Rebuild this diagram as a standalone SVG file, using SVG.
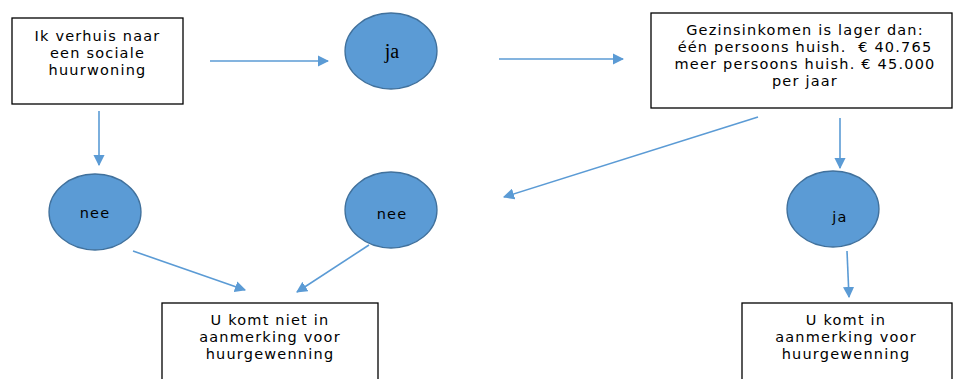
<svg xmlns="http://www.w3.org/2000/svg" width="953" height="379" viewBox="0 0 953 379">
<style>
.box{fill:#fff;stroke:#000;stroke-width:1.3}
.circ{fill:#5B9BD5;stroke:#41719C;stroke-width:1.3}
.c{stroke:#5B9BD5;stroke-width:1.6;fill:none;marker-end:url(#ah)}
</style>
<defs>
<marker id="ah" viewBox="0 0 10 10" refX="9" refY="5" markerWidth="7" markerHeight="7" markerUnits="strokeWidth" orient="auto">
<path d="M0,0 L10,5 L0,10 z" fill="#5B9BD5"/>
</marker>
</defs>
<rect width="953" height="379" fill="#fff"/>
<g font-family="'DejaVu Sans', Verdana, sans-serif" font-size="14.5" letter-spacing="1.2" text-anchor="middle" fill="#000">
<g id="n1">
<rect class="box" x="12" y="18" width="171" height="86"/>
<text x="97.5" y="41">Ik verhuis naar</text>
<text x="97.5" y="58">een sociale</text>
<text x="97.5" y="75">huurwoning</text>
</g>
<g id="n2">
<ellipse class="circ" cx="391" cy="51" rx="46" ry="38"/>
<text x="392" y="58" font-family="'Liberation Serif', 'DejaVu Serif', 'Times New Roman', serif" font-size="20" letter-spacing="0">ja</text>
</g>
<g id="n3">
<rect class="box" x="651" y="13" width="301" height="95"/>
<text x="805" y="35">Gezinsinkomen is lager dan:</text>
<text x="805" y="52" xml:space="preserve">één persoons huish.  € 40.765</text>
<text x="805" y="69">meer persoons huish. € 45.000</text>
<text x="805" y="86">per jaar</text>
</g>
<g id="n4">
<ellipse class="circ" cx="95" cy="212" rx="46" ry="38"/>
<text x="95" y="218">nee</text>
</g>
<g id="n5">
<ellipse class="circ" cx="391" cy="210" rx="46" ry="38"/>
<text x="392" y="219">nee</text>
</g>
<g id="n6">
<ellipse class="circ" cx="833" cy="209" rx="46" ry="38"/>
<text x="840" y="222">ja</text>
</g>
<g id="n7">
<rect class="box" x="162" y="303" width="216" height="80"/>
<text x="270" y="325">U komt niet in</text>
<text x="270" y="342">aanmerking voor</text>
<text x="270" y="359">huurgewenning</text>
</g>
<g id="n8">
<rect class="box" x="742" y="303" width="210" height="80"/>
<text x="846" y="325">U komt in</text>
<text x="846" y="342">aanmerking voor</text>
<text x="846" y="359">huurgewenning</text>
</g>
</g>
<g id="connectors">
<line class="c" x1="210" y1="61" x2="328" y2="61"/>
<line class="c" x1="499" y1="59" x2="623" y2="59"/>
<line class="c" x1="99" y1="111" x2="99" y2="165"/>
<line class="c" x1="758" y1="117" x2="504" y2="197"/>
<line class="c" x1="840" y1="118" x2="840" y2="168"/>
<line class="c" x1="847" y1="251" x2="849" y2="297"/>
<line class="c" x1="133" y1="251" x2="245" y2="290"/>
<line class="c" x1="369" y1="245" x2="297" y2="292"/>
</g>
</svg>
